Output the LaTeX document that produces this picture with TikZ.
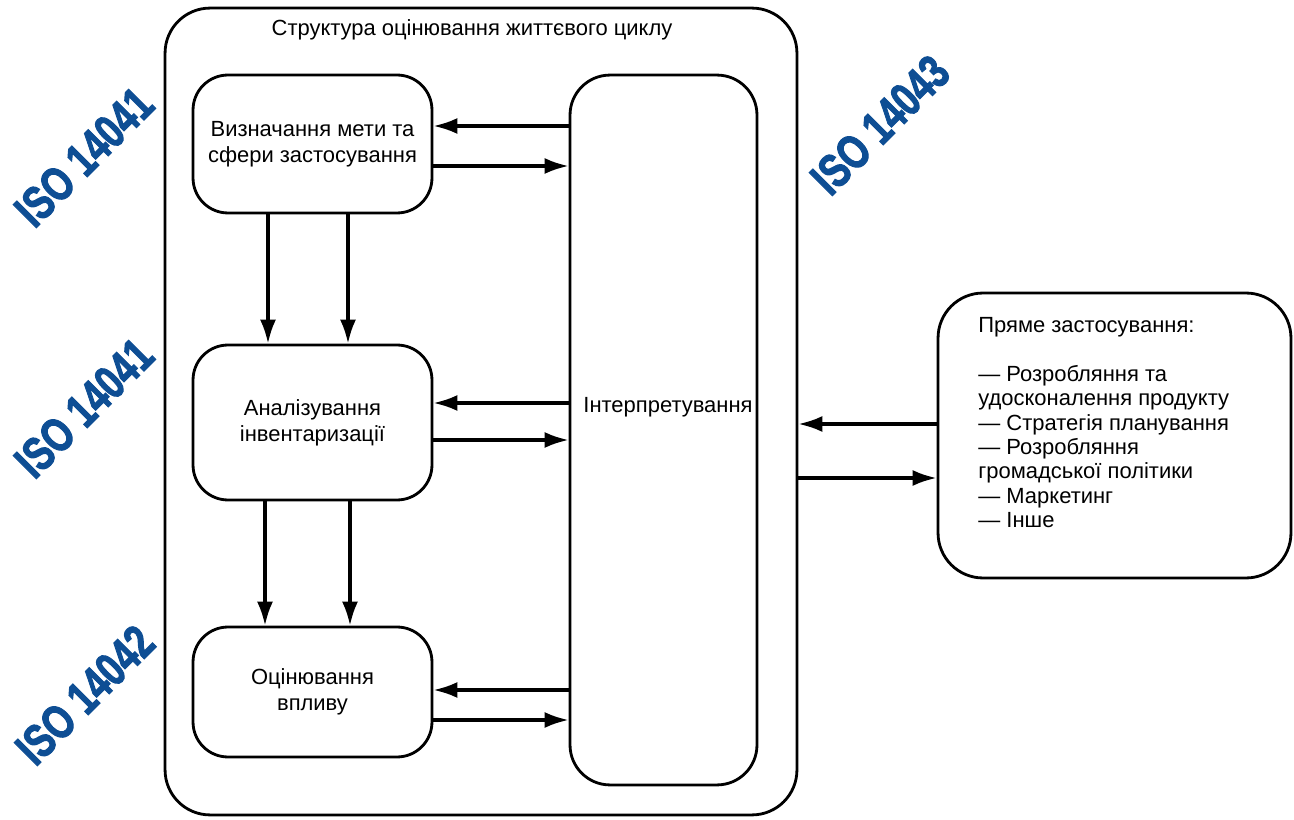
\documentclass[tikz,border=0pt]{standalone}
\usepackage{fontspec}
\setmainfont{Liberation Sans}
\newfontfamily\isofont{Liberation Sans Bold}[FakeBold=2.5]
\usepackage{graphicx}
\usetikzlibrary{arrows.meta}
\definecolor{isoblue}{RGB}{14,78,148}
\tikzset{
	block/.style={draw,line width=1.6pt,rounded corners=0.7cm,align=center,inner sep=0pt},
	link/.style={line width=1.8pt,-{Latex[length=4.8mm,width=3.2mm]}},
	isolabel/.style={text=isoblue,font=\fontsize{27}{27}\isofont,rotate=45}
}
\newcommand{\isotext}[1]{\scalebox{0.76}[1]{#1}}
\begin{document}
\begin{tikzpicture}[x=0.02cm,y=-0.02cm,font=\fontsize{12.5}{15}\selectfont]
			\useasboundingbox (0,0) rectangle (1294,820);
			
			\node[block,rounded corners=0.9cm,minimum width=12.64cm,minimum height=16.14cm] (frame) at (481,411.5) {};
			\node (title) at (472,30) {Структура оцінювання життєвого циклу};
			
			\node[block,minimum width=4.78cm,minimum height=2.76cm] (goal) at (312.5,144) {Визначання мети та\\сфери застосування};
			\node[block,minimum width=4.78cm,minimum height=3.1cm] (inv) at (312.5,422.5) {Аналізування\\інвентаризації};
			\node[block,minimum width=4.78cm,minimum height=2.6cm] (impact) at (312.5,692) {Оцінювання\\впливу};
			
			\node[block,rounded corners=0.8cm,minimum width=3.74cm,minimum height=14.2cm] (interp) at (663.5,430) {};
			\node (interptext) at (668,407) {Інтерпретування};
			
			\node[block,rounded corners=0.9cm,minimum width=7.06cm,minimum height=5.7cm] (appl) at (1114.5,435.5) {};
			\node[anchor=north west,align=left,inner sep=0pt,font=\fontsize{12.5}{13.9}\selectfont] (appltext) at (978,317) {Пряме застосування:\\[13.9pt]
				— Розробляння та\\удосконалення продукту\\— Стратегія планування\\— Розробляння\\громадської політики\\— Маркетинг\\— Інше};
			
			\node[isolabel] (isogoal) at (84,157) {\isotext{ISO 14041}};
			\node[isolabel] (isoinv) at (84,408) {\isotext{ISO 14041}};
			\node[isolabel] (isoimpact) at (85,695) {\isotext{ISO 14042}};
			\node[isolabel] (isointerp) at (880,125) {\isotext{ISO 14043}};
			
			\draw[link] (interp.west |- 0,126) -- (goal.east |- 0,126);
			\draw[link] (goal.east |- 0,166) -- (interp.west |- 0,166);
			\draw[link] (interp.west |- 0,403) -- (inv.east |- 0,403);
			\draw[link] (inv.east |- 0,440) -- (interp.west |- 0,440);
			\draw[link] (interp.west |- 0,690) -- (impact.east |- 0,690);
			\draw[link] (impact.east |- 0,720) -- (interp.west |- 0,720);
			
			\draw[link] (goal.south -| 268,0) -- (inv.north -| 268,0);
			\draw[link] (goal.south -| 348,0) -- (inv.north -| 348,0);
			\draw[link] (inv.south -| 265,0) -- (impact.north -| 265,0);
			\draw[link] (inv.south -| 350,0) -- (impact.north -| 350,0);
			
			\draw[link] (appl.west |- 0,424) -- (frame.east |- 0,424);
			\draw[link] (frame.east |- 0,478) -- (appl.west |- 0,478);
		\end{tikzpicture}
\end{document}
